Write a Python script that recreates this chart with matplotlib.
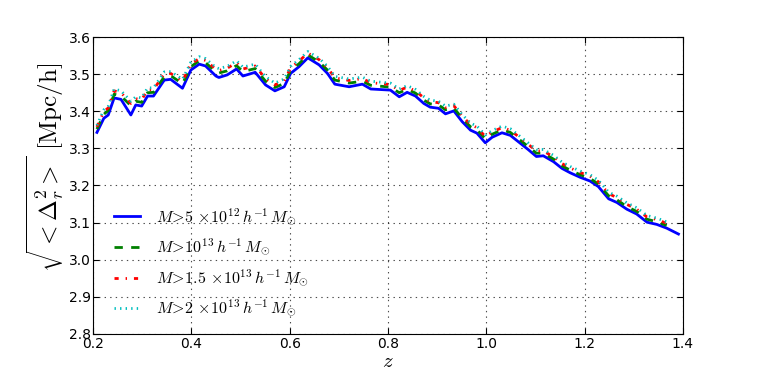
import matplotlib
matplotlib.use("Agg")
import matplotlib.pyplot as plt

plt.rcParams['mathtext.fontset'] = 'cm'
plt.rcParams['font.family'] = ['DejaVu Sans']
plt.rcParams['lines.scale_dashes'] = False
plt.rcParams['lines.dashed_pattern'] = [6, 6]
plt.rcParams['lines.dashdot_pattern'] = [3, 5, 1, 5]
plt.rcParams['lines.dotted_pattern'] = [1, 3]

z = [0.208, 0.222, 0.231, 0.243, 0.257, 0.277, 0.287, 0.299, 0.311, 0.323,
     0.345, 0.358, 0.382, 0.399, 0.416, 0.429, 0.450, 0.456, 0.473, 0.492,
     0.505, 0.530, 0.551, 0.570, 0.589, 0.602, 0.619, 0.637, 0.660, 0.677,
     0.692, 0.721, 0.748, 0.765, 0.805, 0.823, 0.839, 0.856, 0.873, 0.886,
     0.903, 0.917, 0.934, 0.951, 0.968, 0.981, 0.998, 1.012, 1.032, 1.049,
     1.069, 1.086, 1.102, 1.116, 1.137, 1.154, 1.171, 1.191, 1.211, 1.228,
     1.249, 1.266, 1.286, 1.306, 1.327, 1.347, 1.367, 1.391]

m5e12 = [3.343, 3.381, 3.390, 3.436, 3.432, 3.390, 3.417, 3.414, 3.441, 3.441,
         3.484, 3.486, 3.462, 3.511, 3.527, 3.522, 3.495, 3.491, 3.498, 3.514,
         3.495, 3.505, 3.471, 3.455, 3.466, 3.502, 3.520, 3.544, 3.525, 3.502,
         3.473, 3.466, 3.473, 3.460, 3.457, 3.439, 3.451, 3.441, 3.421, 3.411,
         3.408, 3.393, 3.401, 3.372, 3.349, 3.341, 3.315, 3.330, 3.342, 3.335,
         3.314, 3.296, 3.278, 3.280, 3.264, 3.246, 3.234, 3.222, 3.212, 3.197,
         3.164, 3.154, 3.136, 3.123, 3.101, 3.095, 3.085, 3.069]

m1e13 = [3.352, 3.392, 3.402, 3.446, 3.441, 3.415, 3.427, 3.424, 3.450, 3.451,
         3.493, 3.496, 3.474, 3.520, 3.536, 3.531, 3.506, 3.503, 3.509, 3.523,
         3.507, 3.515, 3.481, 3.464, 3.475, 3.510, 3.528, 3.552, 3.533, 3.511,
         3.484, 3.476, 3.481, 3.470, 3.465, 3.450, 3.459, 3.449, 3.430, 3.420,
         3.417, 3.404, 3.409, 3.381, 3.358, 3.350, 3.326, 3.338, 3.350, 3.343,
         3.322, 3.304, 3.287, 3.287, 3.271, 3.253, 3.241, 3.229, 3.219, 3.204,
         3.172, 3.161, 3.143, 3.130, 3.109, 3.102, 3.092]

m15e13 = [3.358, 3.399, 3.409, 3.455, 3.450, 3.421, 3.434, 3.431, 3.458, 3.458,
          3.501, 3.502, 3.481, 3.527, 3.542, 3.537, 3.513, 3.510, 3.516, 3.531,
          3.514, 3.522, 3.488, 3.471, 3.482, 3.517, 3.535, 3.557, 3.539, 3.517,
          3.490, 3.483, 3.488, 3.477, 3.472, 3.456, 3.465, 3.455, 3.436, 3.426,
          3.423, 3.410, 3.415, 3.387, 3.364, 3.356, 3.332, 3.344, 3.356, 3.349,
          3.328, 3.310, 3.293, 3.293, 3.277, 3.259, 3.247, 3.235, 3.225, 3.210,
          3.178, 3.167, 3.149, 3.136, 3.115, 3.108, 3.098]

m2e13 = [3.362, 3.404, 3.414, 3.460, 3.455, 3.427, 3.439, 3.436, 3.463, 3.463,
         3.506, 3.507, 3.486, 3.532, 3.547, 3.542, 3.518, 3.515, 3.521, 3.536,
         3.519, 3.527, 3.493, 3.476, 3.487, 3.521, 3.539, 3.561, 3.543, 3.521,
         3.494, 3.487, 3.492, 3.481, 3.476, 3.460, 3.469, 3.459, 3.440, 3.430,
         3.427, 3.414, 3.419, 3.391, 3.368, 3.360, 3.336, 3.348, 3.360, 3.353,
         3.332, 3.314, 3.297, 3.297, 3.281, 3.263, 3.251, 3.239, 3.229, 3.214,
         3.182, 3.171, 3.153, 3.140, 3.119, 3.112, 3.102]

labels = [r'$M\!>\!5\,\times\!10^{12}\,h^{-1}\,M_{\odot}$',
          r'$M\!>\!10^{13}\,h^{-1}\,M_{\odot}$',
          r'$M\!>\!1.5\,\times\!10^{13}\,h^{-1}\,M_{\odot}$',
          r'$M\!>\!2\,\times\!10^{13}\,h^{-1}\,M_{\odot}$']

xticks = [0.2, 0.4, 0.6, 0.8, 1.0, 1.2, 1.4]
yticks = [2.8, 2.9, 3.0, 3.1, 3.2, 3.3, 3.4, 3.5, 3.6]

fig = plt.figure(figsize=(7.63, 3.82), dpi=100)
ax = fig.add_axes([0.1219, 0.126, 0.7731, 0.777])

n = len(m1e13)
ax.plot(z, m5e12, '-', color='b', lw=2, label=labels[0])
ax.plot(z[:n], m1e13, '--', color='g', lw=2, label=labels[1])
ax.plot(z[:n], m15e13, '-.', color='r', lw=2, label=labels[2])
ax.plot(z[:n], m2e13, ':', color='c', lw=2, label=labels[3])

ax.set_xlim(0.2, 1.4)
ax.set_ylim(2.8, 3.6)
ax.set_xticks(xticks)
ax.set_yticks(yticks)
ax.set_xticklabels([f'{t:.1f}' for t in xticks])
ax.set_yticklabels([f'{t:.1f}' for t in yticks])
ax.tick_params(direction='in', top=True, right=True, length=4, labelsize=10)
ax.tick_params(axis='y', pad=1.5)
ax.tick_params(axis='x', pad=2.5)
ax.grid(True, color='k', linestyle=':', lw=0.8, alpha=0.7)

ax.set_xlabel(r'$z$', fontsize=15, labelpad=0)
ax.set_ylabel(r'$\sqrt{<\Delta_r^2>}\ \mathrm{[Mpc/h]}$', fontsize=18)
ax.yaxis.set_label_coords(-0.046, 0.56)

leg = ax.legend(loc='lower left', frameon=False, fontsize=11.5,
                labelspacing=0.6, handlelength=1.6, handletextpad=1.0,
                bbox_to_anchor=(0.012, 0.0))

fig.savefig('out.png', dpi=100)
